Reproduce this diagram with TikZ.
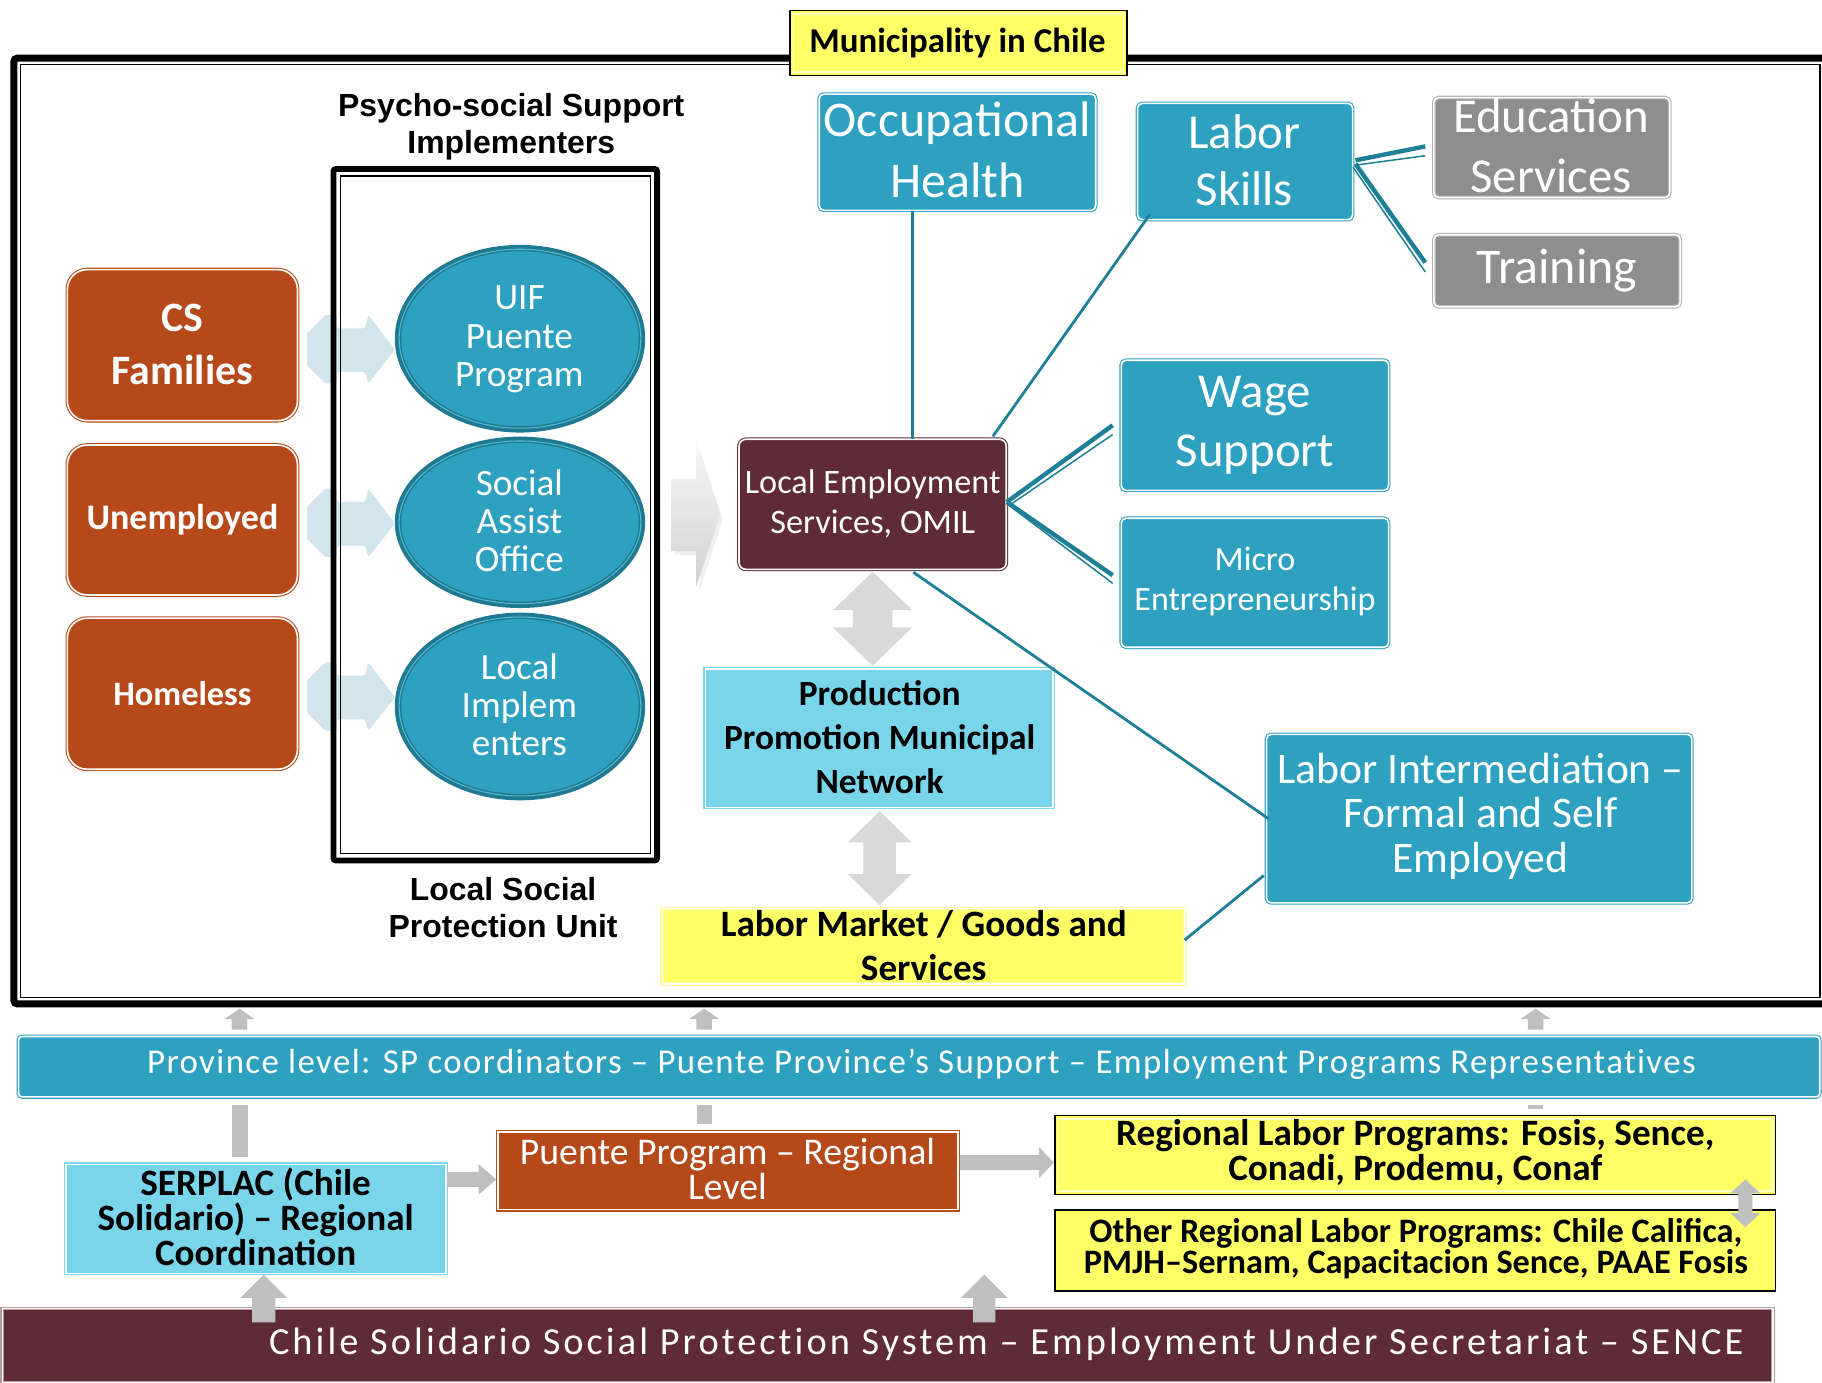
\documentclass[tikz,border=0pt]{standalone}
\usepackage{fontspec}
\setmainfont{Carlito}
\newfontfamily\arl{Liberation Sans}
\usetikzlibrary{shapes.geometric}
\definecolor{tealF}{HTML}{2DA1BF}
\definecolor{tealD}{HTML}{1F7A91}
\definecolor{tealL}{HTML}{56B9D1}
\definecolor{connC}{HTML}{1F7F97}
\definecolor{orangeF}{HTML}{B5491A}
\definecolor{maroonF}{HTML}{5E2B37}
\definecolor{maroonL}{HTML}{B69AA0}
\definecolor{cyanF}{HTML}{79D5EA}
\definecolor{yelF}{HTML}{FFFF66}
\definecolor{yelL}{HTML}{FFFF99}
\definecolor{yelP}{HTML}{FFFFC8}
\definecolor{grayF}{HTML}{8E8E8E}
\definecolor{grayL}{HTML}{B0B0B0}
\definecolor{arrG}{HTML}{D9D9D9}
\definecolor{arrG2}{HTML}{BFBFBF}
\definecolor{paleB}{HTML}{D3E5EC}
\newcommand{\fs}[2]{\fontsize{#1pt}{#2pt}\selectfont}
% vertical double arrow: x, ytop, ybot, halfhead, halfshaft, headlen, colour
\newcommand{\vdarr}[7]{\fill[#7] (#1,#2) -- (#1+#4,#2+#6) -- (#1+#5,#2+#6) -- (#1+#5,#3-#6) -- (#1+#4,#3-#6) -- (#1,#3) -- (#1-#4,#3-#6) -- (#1-#5,#3-#6) -- (#1-#5,#2+#6) -- (#1-#4,#2+#6) -- cycle;}
% up arrow: x, ytip, ybottom, halfhead, halfshaft, headlen, colour
\newcommand{\uparr}[7]{\fill[#7] (#1,#2) -- (#1+#4,#2+#6) -- (#1+#5,#2+#6) -- (#1+#5,#3) -- (#1-#5,#3) -- (#1-#5,#2+#6) -- (#1-#4,#2+#6) -- cycle;}
% right arrow: y, xleft, xtip, halfhead, halfshaft, headlen, colour
\newcommand{\rtarr}[7]{\fill[#7] (#3,#1) -- (#3-#6,#1-#4) -- (#3-#6,#1-#5) -- (#2,#1-#5) -- (#2,#1+#5) -- (#3-#6,#1+#5) -- (#3-#6,#1+#4) -- cycle;}
\newcommand{\palearr}[1]{\fill[paleB, rounded corners=2pt] (264,#1-14) -- (280,#1-30) -- (290,#1-30) -- (290,#1-18.5) -- (314,#1-18.5) -- (317,#1-30) -- (340,#1) -- (317,#1+29) -- (314,#1+19) -- (290,#1+19) -- (290,#1+29) -- (280,#1+29) -- (264,#1+13) -- cycle;}
\begin{document}
\begin{tikzpicture}[x=1pt,y=-1pt,
  every node/.style={inner sep=0pt, align=center},
  dbl/.style={double=white, line width=0.9pt, double distance=1.4pt},
  tbox/.style={rectangle, rounded corners=4pt, fill=tealF, draw=tealF, dbl},
  gbox/.style={rectangle, rounded corners=4pt, fill=grayF, draw=grayL, dbl},
  obox/.style={rectangle, rounded corners=17pt, fill=orangeF, draw=orangeF, dbl},
  orect/.style={rectangle, fill=orangeF, draw=orangeF, dbl},
  mbox/.style={rectangle, rounded corners=6pt, fill=maroonF, draw=maroonF, dbl},
  cbox/.style={rectangle, fill=cyanF, draw=cyanF, dbl},
  ybox/.style={rectangle, fill=yelF, draw=yelL, dbl},
  insetline/.style={path picture={\draw[#1, line width=1.1pt] ([shift={(3pt,-3pt)}]path picture bounding box.north west) rectangle ([shift={(-3pt,3pt)}]path picture bounding box.south east);}},
  kbox/.style={rectangle, fill=yelF, draw=black, line width=1.6pt, insetline=yelP},
  ell/.style={ellipse, fill=tealF, draw=tealD, line width=5.5pt},
  wt/.style={text=white},
  bt/.style={text=black},
  conn/.style={draw=connC, line width=2.4pt},
  thk/.style={draw=connC, line width=3.8pt},
  thn/.style={draw=connC, line width=1.3pt},
  lbl/.style={font=\arl\bfseries\fs{27.5}{32}, text=black},
]
\useasboundingbox (0,0) rectangle (1568,1190);
\clip (0,0) rectangle (1568,1190);

% pale arrows behind the frame
\palearr{301}
\palearr{450.5}
\palearr{600}

% main frame
\draw[line width=6pt, rounded corners=3pt] (12,50) rectangle (1590,864);
\draw[line width=1.4pt] (17.5,55.5) rectangle (1566,858.5);
% local social protection unit frame
\draw[line width=5pt, rounded corners=2pt] (287,145.5) rectangle (565.5,740.5);
\draw[line width=1.2pt] (293,151.5) rectangle (560,734.5);

\node[kbox, minimum width=290, minimum height=56] (muni) at (825,37) {};
\node[bt, font=\bfseries\fs{30}{36}] (muni-t) at (824,37) {Municipality in Chile};

\node[lbl] (psy) at (440,109) {Psycho-social Support\\Implementers};
\node[lbl] (lspu) at (433,781) {Local Social\\Protection Unit};

% left orange boxes
\node[obox, minimum width=198, minimum height=130] (cs) at (157,297) {};
\node[wt, font=\bfseries\fs{36}{45}] (cs-t) at (157,296.5) {CS\\Families};
\node[obox, minimum width=198, minimum height=129] (unemp) at (157,447.5) {};
\node[wt, font=\bfseries\fs{31}{36}] (unemp-t) at (157,447) {Unemployed};
\node[obox, minimum width=198, minimum height=130] (home) at (157,597) {};
\node[wt, font=\bfseries\fs{29.5}{36}] (home-t) at (157,597) {Homeless};

% ellipses
\node[ell, minimum width=210, minimum height=156] (uif) at (447.5,291.5) {};
\draw[tealL, line width=0.9pt] (uif.center) ellipse [x radius=104pt, y radius=77pt];
\node[wt, font=\fs{32}{33}] (uif-t) at (447,292) {UIF\\Puente\\Program};
\node[ell, minimum width=210, minimum height=142] (sao) at (447.5,449.5) {};
\draw[tealL, line width=0.9pt] (sao.center) ellipse [x radius=104pt, y radius=70pt];
\node[wt, font=\fs{32}{33}] (sao-t) at (447,448) {Social\\Assist\\Office};
\node[ell, minimum width=210, minimum height=156] (limp) at (447.5,608) {};
\draw[tealL, line width=0.9pt] (limp.center) ellipse [x radius=104pt, y radius=77pt];
\node[wt, font=\fs{32}{33}] (limp-t) at (447,606.5) {Local\\Implem\\enters};

% big gray arrow
\fill[gray!12] (581,416) -- (602,416) -- (602,386) -- (622,447) -- (602,509) -- (602,478) -- (581,478) -- cycle;
\shade[top color=gray!6, bottom color=gray!36] (578,412) -- (599,412) -- (599,381.5) -- (620,443) -- (599,505) -- (599,474) -- (578,474) -- cycle;

% node boxes (right part)
\node[tbox, minimum width=238, minimum height=100] (occ) at (824,131) {};
\node[tbox, minimum width=185, minimum height=100] (lsk) at (1071.5,139) {};
\node[gbox, minimum width=203, minimum height=86] (edu) at (1335.5,127) {};
\node[gbox, minimum width=212, minimum height=62] (train) at (1340,233) {};
\node[tbox, minimum width=230, minimum height=112] (wage) at (1080,366) {};
\node[tbox, minimum width=230, minimum height=111] (micro) at (1080,501.5) {};
\node[mbox, minimum width=230, minimum height=112] (omil) at (751,434) {};
\node[tbox, minimum width=366, minimum height=145] (lint) at (1273,704.5) {};
\node[cbox, minimum width=299, minimum height=119] (prod) at (756.5,635.5) {};
\node[ybox, minimum width=450, minimum height=65] (lmkt) at (795,814.5) {};

% connectors
\draw[conn] ([xshift=-39pt]occ.south) -- ([xshift=34pt]omil.north);
\draw[conn] ([xshift=11pt,yshift=5pt]lsk.south west) -- ([xshift=-12pt,yshift=2pt]omil.north east);
\draw[thk] ([xshift=2pt,yshift=1pt]lsk.east) -- ([xshift=-7pt,yshift=1pt]edu.west);
\draw[thn] ([xshift=3pt,yshift=-3pt]lsk.east) -- ([xshift=-7pt,yshift=-7pt]edu.west);
\draw[thk] ([xshift=2pt,yshift=-2pt]lsk.east) -- ([xshift=-7pt,yshift=7pt]train.west);
\draw[thn] ([yshift=-5pt]lsk.east) -- ([xshift=-7pt,yshift=-1pt]train.west);
\draw[thk] ([yshift=2pt]omil.east) -- ([xshift=-7pt]wage.west);
\draw[thn] ([xshift=2pt,yshift=-1pt]omil.east) -- ([xshift=-7pt,yshift=-8pt]wage.west);
\draw[thk] ([yshift=2pt]omil.east) -- ([xshift=-7pt,yshift=6.5pt]micro.west);
\draw[thn] ([xshift=2pt,yshift=-1pt]omil.east) -- ([xshift=-7pt,yshift=-0.5pt]micro.west);
\draw[conn] ([xshift=35pt,yshift=-2pt]omil.south) -- ([xshift=2pt]lint.west);
\draw[conn] ([xshift=-1pt,yshift=5.5pt]lmkt.east) -- ([xshift=-2pt,yshift=24pt]lint.south west);

% texts of right part
\node[wt, font=\fs{43}{52}] (occ-t) at (824,129) {Occupational\\Health};
\node[wt, font=\fs{42}{49}] (lsk-t) at (1071,137.5) {Labor\\Skills};
\node[wt, font=\fs{42}{51}] (edu-t) at (1335,125.5) {Education\\Services};
\node[wt, font=\fs{43}{50}] (train-t) at (1340,233) {Training};
\node[wt, font=\fs{42}{50}] (wage-t) at (1080,366) {Wage\\Support};
\node[wt, font=\fs{29.3}{35}] (micro-t) at (1080,500.5) {Micro\\Entrepreneurship};
\node[wt, font=\fs{29.5}{35}] (omil-t) at (751,433.5) {Local Employment\\Services, OMIL};
\node[wt, font=\fs{37.5}{38.5}] (lint-t) at (1274,702.5) {Labor Intermediation –\\Formal and Self\\Employed};
\node[bt, font=\bfseries\fs{30.5}{38}] (prod-t) at (757,634.5) {Production\\Promotion Municipal\\Network};
\node[bt, font=\bfseries\fs{32}{38}] (lmkt-t) at (795,814) {Labor Market / Goods and\\Services};

% gray double arrows
\vdarr{751}{492}{573}{34}{17}{33}{arrG}
\vdarr{757}{698}{779}{27.5}{14}{27}{arrG}

% small arrows above the province band
\uparr{206}{868}{886}{13}{6.7}{9}{arrG2}
\uparr{606}{868}{886}{13}{6.7}{9}{arrG2}
\uparr{1321.5}{868}{886}{13}{6.7}{9}{arrG2}
\fill[arrG2] (200,951) rectangle (213,995.5);
\fill[arrG2] (599.5,951) rectangle (612.5,967);
\fill[arrG2] (1315,951) rectangle (1328,954);

% province band
\node[tbox, rounded corners=3pt, minimum width=1550, minimum height=52] (prov) at (791,918) {};
\node[wt, font=\fs{30}{36}\addfontfeatures{LetterSpace=4,Ligatures=NoCommon}] (prov-t) at (793,916) {Province level: SP coordinators – Puente Province’s Support – Employment Programs Representatives};

% regional level
\node[cbox, minimum width=327, minimum height=94] (serp) at (220.5,1049) {};
\node[bt, font=\bfseries\fs{32}{30}] (serp-t) at (220,1047) {SERPLAC (Chile\\Solidario) – Regional\\Coordination};
\node[orect, minimum width=396, minimum height=67] (puente) at (626.5,1007.5) {};
\node[wt, font=\fs{32.5}{30}] (puente-t) at (626,1006) {Puente Program – Regional\\Level};
\node[kbox, minimum width=620, minimum height=68] (reg) at (1218,994) {};
\node[bt, font=\bfseries\fs{32}{30}] (reg-t) at (1218,992) {Regional Labor Programs: Fosis, Sence,\\Conadi, Prodemu, Conaf};
\node[rectangle, fill=yelF, draw=black, line width=1.6pt, minimum width=620, minimum height=70] (oth) at (1218,1076) {};
\node[bt, font=\bfseries\fs{29.5}{27}] (oth-t) at (1218.5,1074.5) {Other Regional Labor Programs: Chile Califica,\\PMJH–Sernam, Capacitacion Sence, PAAE Fosis};

\rtarr{1015}{385}{427}{13}{6.5}{15}{arrG2}
\rtarr{1000.5}{826}{907}{13.5}{6.5}{13}{arrG2}
\vdarr{1502}{1015}{1056}{13}{6}{12}{arrG2}

% bottom band
\node[rectangle, fill=maroonF, draw=maroonL, dbl, minimum width=1524, minimum height=64] (band) at (764,1158) {};
\node[wt, font=\fs{33}{36}\addfontfeatures{LetterSpace=8,Ligatures=NoCommon}] (band-t) at (866,1157) {Chile Solidario Social Protection System – Employment Under Secretariat – SENCE};

\uparr{227}{1097}{1138}{20}{10}{20}{arrG2}
\uparr{847}{1097}{1138}{20}{9.5}{20}{arrG2}
\end{tikzpicture}
\end{document}
